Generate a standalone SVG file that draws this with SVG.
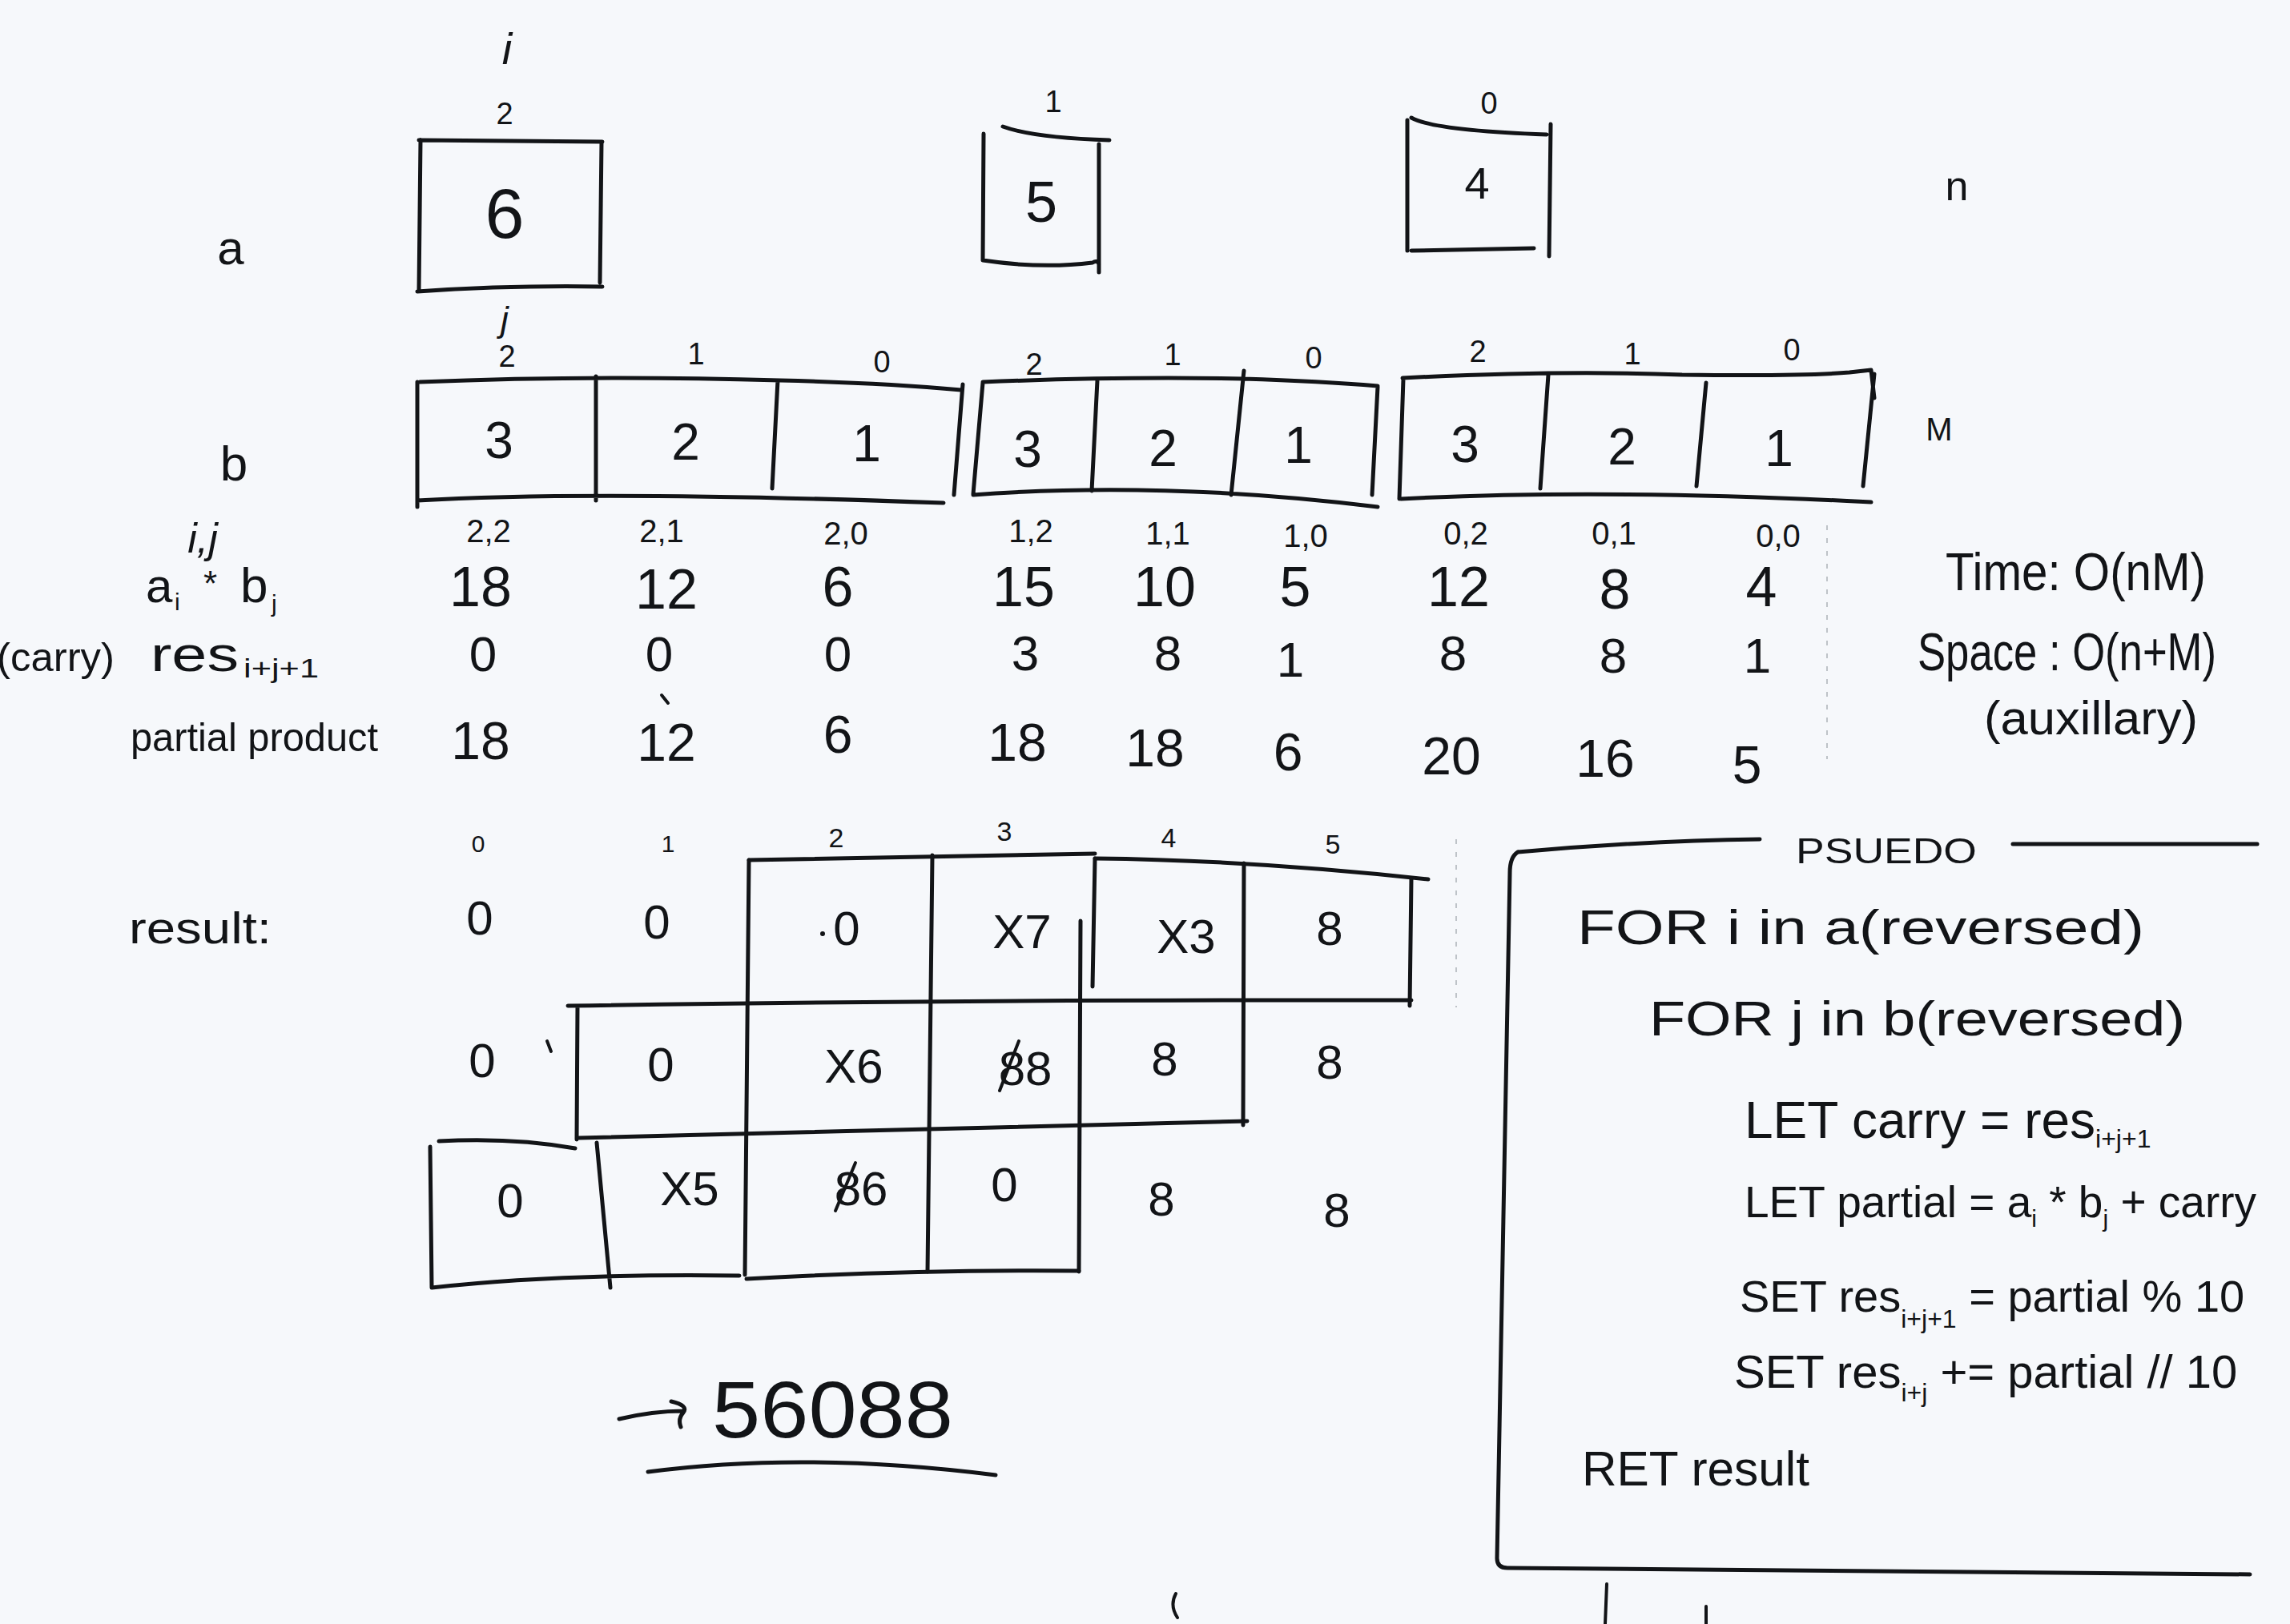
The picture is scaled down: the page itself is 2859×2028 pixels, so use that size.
<svg xmlns="http://www.w3.org/2000/svg" width="2859" height="2028" viewBox="0 0 2859 2028">
<style>
.t{font-family:"Liberation Sans",Arial,sans-serif;fill:#121417}
.c{text-anchor:middle}
.ln{stroke:#121417;stroke-width:5;fill:none;stroke-linecap:round;stroke-linejoin:round}
.tk{stroke:#121417;stroke-width:4;fill:none;stroke-linecap:round}
.idx{font-size:38px}
.bx{font-size:64px}
.ij{font-size:40px}
.ab{font-size:70px}
.cy{font-size:62px}
.pp{font-size:66px}
.rv{font-size:60px}
.ps{font-size:62px}
.faint{stroke:#9aa0a6;stroke-width:2;fill:none;stroke-dasharray:6 10;opacity:0.6}
</style>
<rect width="2859" height="2028" fill="#f6f8fb"/>

<!-- array a -->
<g id="array-a">
<text class="t c" x="288" y="330" font-size="60">a</text>
<text class="t c" x="633" y="80" font-size="56" font-style="italic">i</text>
<text class="t c" x="2443" y="250" font-size="52">n</text>
<g id="a-cell-2">
<text class="t c idx" x="630" y="155">2</text>
<path class="ln" d="M523,175 L752,177 M525,175 L523,362 M751,177 L749,353 M521,364 Q640,356 752,358"/>
<text class="t c" x="630" y="297" font-size="88">6</text>
</g>
<g id="a-cell-1">
<text class="t c idx" x="1315" y="140">1</text>
<path class="ln" d="M1252,158 Q1290,172 1385,175 M1228,167 L1227,325 M1372,180 L1372,340 M1227,325 Q1300,336 1364,328 Q1370,324 1372,330"/>
<text class="t c" x="1300" y="277" font-size="72">5</text>
</g>
<g id="a-cell-0">
<text class="t c idx" x="1859" y="142">0</text>
<path class="ln" d="M1762,147 Q1790,163 1931,168 M1757,150 L1757,313 M1936,155 L1934,320 M1762,313 L1915,310"/>
<text class="t c" x="1844" y="248" font-size="56">4</text>
</g>
</g>

<!-- array b -->
<g id="array-b">
<text class="t c" x="292" y="600" font-size="62">b</text>
<text class="t c" x="2421" y="550" font-size="40">M</text>
<text class="t c" x="630" y="414" font-size="44" font-style="italic">j</text>
<g id="b-copy-1">
<path class="ln" d="M524,477 Q740,468 974,475 Q1100,478 1200,487 M521,477 L521,633 M744,470 L744,625 M971,475 L964,610 M1202,480 L1191,618 M521,625 Q740,612 1178,628"/>
<text class="t c idx" x="633" y="458">2</text><text class="t c idx" x="869" y="455">1</text><text class="t c idx" x="1101" y="465">0</text>
<text class="t c bx" x="623" y="572">3</text><text class="t c bx" x="856" y="574">2</text><text class="t c bx" x="1082" y="576">1</text>
</g>
<g id="b-copy-2">
<path class="ln" d="M1227,477 Q1400,470 1552,473 Q1650,476 1720,482 M1227,478 L1215,617 M1370,475 L1363,613 M1553,463 L1537,618 M1720,483 L1713,618 M1215,618 Q1450,600 1720,633"/>
<text class="t c idx" x="1291" y="468">2</text><text class="t c idx" x="1464" y="456">1</text><text class="t c idx" x="1640" y="460">0</text>
<text class="t c bx" x="1283" y="583">3</text><text class="t c bx" x="1452" y="582">2</text><text class="t c bx" x="1621" y="578">1</text>
</g>
<g id="b-copy-3">
<path class="ln" d="M1751,472 Q1950,462 2100,468 Q2250,470 2309,465 L2336,462 L2340,497 M1752,473 L1747,623 M1933,468 L1923,610 M2130,478 L2118,607 M2340,467 L2326,607 M1749,623 Q2000,610 2336,627"/>
<text class="t c idx" x="1845" y="452">2</text><text class="t c idx" x="2038" y="455">1</text><text class="t c idx" x="2237" y="450">0</text>
<text class="t c bx" x="1829" y="577">3</text><text class="t c bx" x="2025" y="580">2</text><text class="t c bx" x="2221" y="582">1</text>
</g>
</g>

<!-- table -->
<g id="table">
<text class="t c" x="253" y="690" font-size="52" font-style="italic">i,j</text>
<text class="t" x="182" y="752" font-size="60">a</text>
<text class="t" x="218" y="762" font-size="30">i</text>
<text class="t" x="254" y="744" font-size="44">*</text>
<text class="t" x="300" y="752" font-size="62">b</text>
<text class="t" x="339" y="764" font-size="30">j</text>
<text class="t" x="-4" y="838" font-size="50" textLength="147" lengthAdjust="spacingAndGlyphs">(carry)</text>
<text class="t" x="188" y="838" font-size="62" textLength="110" lengthAdjust="spacingAndGlyphs">res</text>
<text class="t" x="304" y="846" font-size="34" textLength="94" lengthAdjust="spacingAndGlyphs">i+j+1</text>
<text class="t" x="163" y="938" font-size="50" textLength="309" lengthAdjust="spacingAndGlyphs">partial product</text>

<g id="row-ij">
<text class="t c ij" x="610" y="677">2,2</text><text class="t c ij" x="826" y="677">2,1</text><text class="t c ij" x="1056" y="680">2,0</text>
<text class="t c ij" x="1287" y="677">1,2</text><text class="t c ij" x="1458" y="680">1,1</text><text class="t c ij" x="1630" y="683">1,0</text>
<text class="t c ij" x="1830" y="680">0,2</text><text class="t c ij" x="2015" y="680">0,1</text><text class="t c ij" x="2220" y="683">0,0</text>
</g>
<g id="row-ab">
<text class="t c ab" x="600" y="757">18</text><text class="t c ab" x="832" y="760">12</text><text class="t c ab" x="1046" y="757">6</text>
<text class="t c ab" x="1278" y="757">15</text><text class="t c ab" x="1454" y="757">10</text><text class="t c ab" x="1617" y="757">5</text>
<text class="t c ab" x="1821" y="757">12</text><text class="t c ab" x="2016" y="760">8</text><text class="t c ab" x="2199" y="757">4</text>
</g>
<g id="row-carry">
<text class="t c cy" x="603" y="838">0</text><text class="t c cy" x="823" y="838">0</text><text class="t c cy" x="1046" y="838">0</text>
<text class="t c cy" x="1280" y="837">3</text><text class="t c cy" x="1458" y="837">8</text><text class="t c cy" x="1611" y="845">1</text>
<text class="t c cy" x="1814" y="837">8</text><text class="t c cy" x="2014" y="840">8</text><text class="t c cy" x="2194" y="840">1</text>
</g>
<g id="row-partial">
<text class="t c pp" x="600" y="948">18</text><text class="t c pp" x="832" y="950">12</text><text class="t c pp" x="1046" y="940">6</text>
<text class="t c pp" x="1270" y="950">18</text><text class="t c pp" x="1442" y="957">18</text><text class="t c pp" x="1608" y="962">6</text>
<text class="t c pp" x="1812" y="967">20</text><text class="t c pp" x="2004" y="970">16</text><text class="t c pp" x="2181" y="978">5</text>
<path class="tk" d="M826,868 L834,878"/>
</g>
</g>

<!-- complexity -->
<g id="complexity">
<text class="t" x="2429" y="737" font-size="66" textLength="325" lengthAdjust="spacingAndGlyphs">Time: O(nM)</text>
<text class="t" x="2394" y="837" font-size="66" textLength="373" lengthAdjust="spacingAndGlyphs">Space : O(n+M)</text>
<text class="t" x="2477" y="917" font-size="60" textLength="267" lengthAdjust="spacingAndGlyphs">(auxillary)</text>
</g>

<!-- result -->
<g id="result">
<text class="t" x="161" y="1178" font-size="56" textLength="178" lengthAdjust="spacingAndGlyphs">result:</text>
<g id="result-index">
<text class="t c" x="597" y="1064" font-size="30">0</text><text class="t c" x="834" y="1064" font-size="30">1</text><text class="t c" x="1044" y="1058" font-size="34">2</text>
<text class="t c" x="1254" y="1050" font-size="34">3</text><text class="t c" x="1459" y="1058" font-size="34">4</text><text class="t c" x="1664" y="1066" font-size="34">5</text>
</g>
<g id="result-grid">
<path class="ln" d="M935,1074 L1367,1066 M1367,1072 Q1560,1074 1783,1098"/>
<path class="ln" d="M935,1074 L930,1592 M1164,1068 L1158,1588 M1367,1072 L1364,1232 M1349,1150 L1347,1588 M1553,1078 L1552,1405 M1762,1097 L1760,1256"/>
<path class="ln" d="M709,1256 Q1200,1248 1762,1249 M721,1256 L720,1423 M723,1421 Q1100,1412 1557,1400"/>
<path class="ln" d="M548,1425 Q640,1420 718,1434 M537,1432 L539,1608 M745,1427 L762,1608 M539,1608 Q700,1590 923,1593 M932,1597 Q1150,1585 1347,1587"/>
</g>
<g id="result-row-1">
<text class="t c rv" x="599" y="1167">0</text><text class="t c rv" x="820" y="1172">0</text>
<circle cx="1027" cy="1166" r="3" fill="#121417"/><text class="t c rv" x="1057" y="1180">0</text>
<text class="t c rv" x="1276" y="1184">X7</text><text class="t c rv" x="1481" y="1190">X3</text><text class="t c rv" x="1660" y="1180">8</text>
</g>
<g id="result-row-2">
<text class="t c rv" x="602" y="1345">0</text><path class="tk" d="M683,1300 L688,1313"/>
<text class="t c rv" x="825" y="1350">0</text><text class="t c rv" x="1066" y="1352">X6</text>
<text class="t c rv" x="1280" y="1355">88</text><path class="tk" d="M1248,1362 L1272,1300"/>
<text class="t c rv" x="1454" y="1343">8</text><text class="t c rv" x="1660" y="1347">8</text>
</g>
<g id="result-row-3">
<text class="t c rv" x="637" y="1520">0</text><text class="t c rv" x="861" y="1505">X5</text>
<text class="t c rv" x="1075" y="1505">86</text><path class="tk" d="M1043,1512 L1068,1452"/>
<text class="t c rv" x="1254" y="1500">0</text><text class="t c rv" x="1450" y="1518">8</text><text class="t c rv" x="1669" y="1532">8</text>
</g>
<g id="answer">
<text class="t" x="889" y="1795" font-size="100" textLength="301" lengthAdjust="spacingAndGlyphs">56088</text>
<path class="ln" d="M809,1838 Q1006,1812 1243,1842"/>
</g>
</g>

<g id="connectors">
<path class="ln" d="M773,1772 Q815,1762 853,1762 M838,1750 Q860,1755 853,1764 Q846,1772 850,1782"/>
</g>

<!-- pseudocode -->
<g id="pseudo">
<path class="ln" d="M1895,1064 Q2050,1050 2197,1048 M2513,1054 L2818,1054 M1895,1064 Q1885,1070 1885,1090 L1869,1946 Q1869,1958 1882,1958 Q2300,1962 2809,1966"/>
<text class="t c" x="2355" y="1078" font-size="44" textLength="226" lengthAdjust="spacingAndGlyphs">PSUEDO</text>
<text class="t ps" x="1969" y="1179" textLength="708" lengthAdjust="spacingAndGlyphs">FOR i in a(reversed)</text>
<text class="t ps" x="2059" y="1293" textLength="669" lengthAdjust="spacingAndGlyphs">FOR j in b(reversed)</text>
<text class="t" x="2178" y="1421" font-size="64">LET carry = res<tspan font-size="32" dy="12">i+j+1</tspan></text>
<text class="t" x="2178" y="1520" font-size="55">LET partial = a<tspan font-size="30" dy="12">i</tspan><tspan dy="-12"> * b</tspan><tspan font-size="30" dy="12">j</tspan><tspan dy="-12"> + carry</tspan></text>
<text class="t" x="2172" y="1638" font-size="56">SET res<tspan font-size="32" dy="20">i+j+1</tspan><tspan dy="-20"> = partial % 10</tspan></text>
<text class="t" x="2165" y="1733" font-size="58">SET res<tspan font-size="32" dy="17">i+j</tspan><tspan dy="-17"> += partial // 10</tspan></text>
<text class="t ps" x="1975" y="1855" textLength="284" lengthAdjust="spacingAndGlyphs">RET result</text>
</g>

<g id="marks">
<path class="faint" d="M1818,1048 L1818,1258 M2281,656 L2281,948"/>
<path class="tk" d="M2006,1978 L2004,2028 M2130,2006 L2130,2028 M1468,1990 Q1460,2005 1470,2020"/>
</g>
</svg>
